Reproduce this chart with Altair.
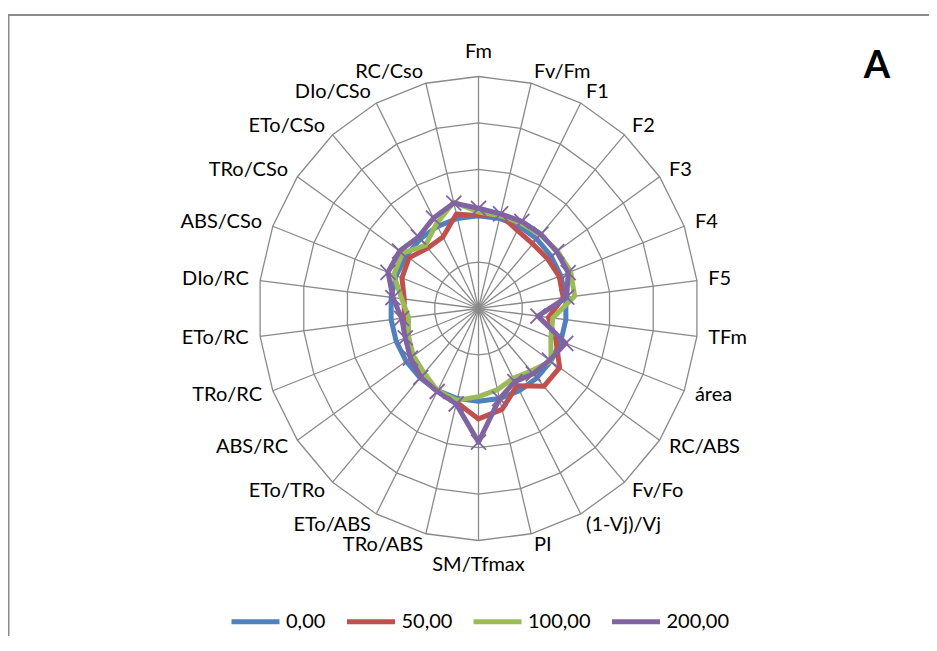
import altair as alt
import pandas as pd

axes = ["Fm", "Fv/Fm", "F1", "F2", "F3", "F4", "F5", "TFm", "área", "RC/ABS",
        "Fv/Fo", "(1-Vj)/Vj", "PI", "SM/Tfmax", "TRo/ABS", "ETo/ABS", "ETo/TRo",
        "ABS/RC", "TRo/RC", "ETo/RC", "DIo/RC", "ABS/CSo", "TRo/CSo", "ETo/CSo",
        "DIo/CSo", "RC/Cso"]
series_names = ["0,00", "50,00", "100,00", "200,00"]
v0 = [1.00, 1.00, 1.00, 1.00, 1.00, 1.00, 1.00, 1.00, 1.00, 1.00, 1.00, 1.00, 1.00,
      1.00, 1.00, 1.00, 1.00, 1.00, 1.00, 1.00, 1.00, 1.00, 1.00, 1.00, 1.00, 1.00]
v50 = [1.00, 1.04, 0.95, 0.93, 0.95, 0.98, 0.97, 0.80, 0.94, 1.12, 1.12, 0.94, 1.12,
       1.19, 1.04, 1.00, 0.97, 0.92, 0.88, 0.85, 0.85, 0.93, 0.96, 0.87, 0.87, 1.05]
v100 = [1.04, 1.03, 1.04, 1.06, 1.09, 1.12, 1.10, 0.85, 0.88, 1.00, 0.90, 0.85, 0.90,
        0.95, 1.02, 1.00, 0.93, 0.90, 0.85, 0.80, 0.88, 1.03, 1.05, 0.91, 1.03, 1.18]
v200 = [1.08, 1.05, 1.06, 1.07, 1.08, 1.09, 1.01, 0.68, 1.06, 0.98, 0.94, 0.89, 1.00,
        1.44, 1.06, 1.01, 0.99, 0.94, 0.89, 0.88, 0.98, 1.10, 1.09, 1.03, 1.10, 1.17]
rings = [0.5, 1.0, 1.5, 2.0, 2.5]
colors = ["#4F81BD", "#C0504D", "#9BBB59", "#8064A2"]

N = len(axes)
W, H = 921, 628
CX, CY = 470.5, 300.5
KX, KY = 88.0, 92.8
xs = alt.Scale(domain=[-CX / KX, (W - CX) / KX], nice=False, zero=False)
ys = alt.Scale(domain=[-(H - CY) / KY, CY / KY], nice=False, zero=False)
FONT = "Lato"
GRID = "#8a8a8a"

series_rows = []
for name, vals in zip(series_names, [v0, v50, v100, v200]):
    for i in range(N + 1):
        series_rows.append({"series": name, "idx": i, "v": vals[i % N]})
df = pd.DataFrame(series_rows)
ring_df = pd.DataFrame([{"ring": r, "idx": i} for r in rings for i in range(N + 1)])
axis_df = pd.DataFrame([{"idx": i, "axis": a} for i, a in enumerate(axes)])

TH = "2*PI*datum.idx/%d" % N
X = lambda f: alt.X(f, scale=xs, axis=None)
Y = lambda f: alt.Y(f, scale=ys, axis=None)

grid = alt.Chart(ring_df).transform_calculate(
    x=f"datum.ring*sin({TH})", y=f"datum.ring*cos({TH})"
).mark_line(color=GRID, strokeWidth=1.3).encode(
    x=X("x:Q"), y=Y("y:Q"), detail="ring:N", order="idx:Q")

spokes = alt.Chart(axis_df).transform_calculate(
    x0="0", y0="0", x1=f"2.5*sin({TH})", y1=f"2.5*cos({TH})"
).mark_rule(color=GRID, strokeWidth=1.3).encode(
    x=X("x0:Q"), y=Y("y0:Q"), x2="x1:Q", y2="y1:Q")

XPATH = "M-1,-1L1,1M-1,1L1,-1"
legend = alt.Legend(
    title=None, orient="none", legendX=221, legendY=587, direction="horizontal",
    symbolType="stroke", symbolSize=2304, symbolStrokeWidth=5,
    labelFont=FONT, labelFontSize=20, labelColor="black", labelOffset=4,
    columnPadding=10.5, padding=0)
color = alt.Color("series:N", scale=alt.Scale(domain=series_names, range=colors), legend=legend)

base = alt.Chart(df).transform_calculate(
    x=f"datum.v*sin({TH})", y=f"datum.v*cos({TH})")
lines = []
for name in series_names:
    lines.append(base.transform_filter(f"datum.series === '{name}'").mark_line(
        strokeWidth=5, strokeJoin="round", strokeCap="round").encode(
        x=X("x:Q"), y=Y("y:Q"), color=color, order="idx:Q"))

markers = base.transform_filter(
    f"datum.series === '200,00' && datum.idx < {N}").mark_point(
    shape=XPATH, filled=False, strokeWidth=1.8, size=225, opacity=1,
    color=colors[3]).encode(x=X("x:Q"), y=Y("y:Q"))

lab = alt.Chart(axis_df).transform_calculate(
    lx=f"2.63*sin({TH})", ly=f"2.63*cos({TH})", s=f"sin({TH})",
    tx="0", ty="2.655", bx="0", by="-2.655")
tkw = dict(font=FONT, fontSize=20, color="black")
lab_r = lab.transform_filter("datum.s > 0.05").mark_text(
    align="left", baseline="middle", **tkw).encode(x=X("lx:Q"), y=Y("ly:Q"), text="axis:N")
lab_l = lab.transform_filter("datum.s < -0.05").mark_text(
    align="right", baseline="middle", **tkw).encode(x=X("lx:Q"), y=Y("ly:Q"), text="axis:N")
lab_t = lab.transform_filter("datum.idx === 0").mark_text(
    align="center", baseline="bottom", **tkw).encode(x=X("tx:Q"), y=Y("ty:Q"), text="axis:N")
lab_b = lab.transform_filter(f"datum.idx === {N // 2}").mark_text(
    align="center", baseline="top", **tkw).encode(x=X("bx:Q"), y=Y("by:Q"), text="axis:N")

title_df = pd.DataFrame({"t": ["A"]})
title = alt.Chart(title_df).mark_text(
    font=FONT, fontSize=38, fontWeight="bold", align="center", baseline="middle"
).encode(x=alt.value(869), y=alt.value(59), text="t:N")

frame_df = pd.DataFrame({"d": [0]})
top_rule = alt.Chart(frame_df).mark_rule(color="#8c8c8c", strokeWidth=2).encode(
    x=alt.value(0), x2=alt.value(W), y=alt.value(7))
left_rule = alt.Chart(frame_df).mark_rule(color="#8c8c8c", strokeWidth=2).encode(
    x=alt.value(0.5), y=alt.value(7), y2=alt.value(H))

chart = alt.layer(grid, spokes, *lines, markers, lab_r, lab_l, lab_t, lab_b,
                  title, top_rule, left_rule).properties(
    width=W, height=H, padding=0, autosize=alt.AutoSizeParams(type="none")
).configure_view(stroke=None)

chart.save("out.html", embed_options={"renderer": "svg", "actions": False})
